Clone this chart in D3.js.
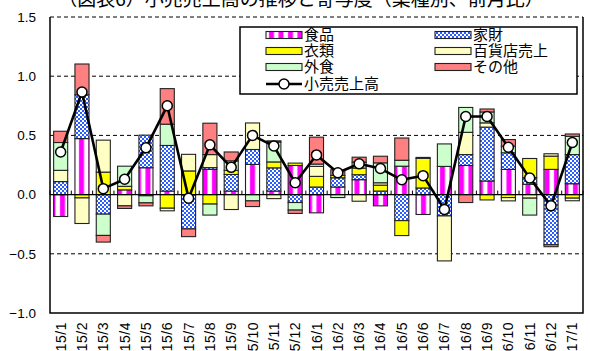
<!DOCTYPE html>
<html>
<head>
<meta charset="utf-8">
<script src="https://cdn.jsdelivr.net/npm/d3@7"></script>
<style>
  html, body { margin: 0; padding: 0; background: #fff; }
  svg { display: block; }
</style>
</head>
<body>
<svg id="chart" width="590" height="351"></svg>
<script>
// Months (yy/m)
const categories = ["15/1","15/2","15/3","15/4","15/5","15/6","15/7","15/8","15/9","15/10","15/11","15/12",
  "16/1","16/2","16/3","16/4","16/5","16/6","16/7","16/8","16/9","16/10","16/11","16/12","17/1"];

// Contribution by sector (percentage points)
const food     = [-0.185, 0.473, 0, 0.04, 0.227, 0.03, 0, 0.213, 0.03, 0.255, 0.03, 0.246,
  -0.154, 0.064, 0.126, -0.095, 0.24, -0.168, 0.238, 0.246, 0.115, 0.213, 0.087, 0.213, 0.092];
const household = [0.11, 0.37, -0.165, 0, 0.275, 0.385, -0.29, 0.015, 0.14, 0.126, 0.196, -0.067,
  0.064, 0.078, 0.042, 0.03, -0.22, 0.056, -0.18, 0.092, 0.455, 0.14, 0.056, -0.423, 0.246];
const clothing = [0, -0.028, 0.19, 0.03, -0.01, -0.115, 0.2, -0.08, 0.035, 0, 0.05, 0.02,
  0.09, 0.02, 0.056, 0.05, -0.126, 0.25, 0, 0, -0.045, -0.025, 0.162, 0.112, -0.03];
const deptStore = [0.095, -0.216, 0.27, -0.095, 0, -0.022, 0.14, 0.11, -0.126, 0.224, -0.034, 0,
  0.084, 0, -0.056, 0.02, 0, 0.008, -0.38, 0.188, 0.036, -0.028, -0.03, 0.02, -0.022];
const dining   = [0.235, 0, -0.18, 0.17, -0.06, 0.18, 0, -0.093, 0.08, -0.053, 0.168, -0.064,
  0.02, -0.025, 0.05, 0.168, 0.05, 0, 0.19, 0.21, 0.092, 0.056, -0.143, 0, 0.154];
const other    = [0.095, 0.26, -0.056, -0.022, -0.025, 0.30, -0.065, 0.265, 0.075, -0.048, 0.01, -0.028,
  0.227, 0.048, 0.042, 0.056, 0.188, 0, 0, -0.067, 0.025, 0.056, 0, -0.017, 0.02];

// Retail sales, month-on-month (%)
const retailSales = [0.36, 0.866, 0.05, 0.13, 0.395, 0.75, -0.03, 0.42, 0.23, 0.50, 0.41, 0.10,
  0.335, 0.185, 0.26, 0.22, 0.125, 0.16, -0.125, 0.66, 0.66, 0.40, 0.14, -0.095, 0.44];

const yTicks = [-1.0, -0.5, 0.0, 0.5, 1.0, 1.5];

const seriesNames = ["食品", "家財", "衣類", "百貨店売上", "外食", "その他"];
const seriesValues = [food, household, clothing, deptStore, dining, other];
const lineName = "小売売上高";

const svg = d3.select("#chart");
const defs = svg.append("defs");

// Striped fill for food
const pFood = defs.append("pattern").attr("id", "pFood")
  .attr("patternUnits", "userSpaceOnUse").attr("width", 9.5).attr("height", 4);
pFood.append("rect").attr("width", 9.5).attr("height", 4).attr("fill", "#fff");
pFood.append("rect").attr("x", 3).attr("width", 5).attr("height", 4).attr("fill", "#ff00ff");

// Checkered fill for household goods
const pHouse = defs.append("pattern").attr("id", "pHouse")
  .attr("patternUnits", "userSpaceOnUse").attr("width", 4).attr("height", 4);
pHouse.append("rect").attr("width", 4).attr("height", 4).attr("fill", "#fff");
pHouse.append("rect").attr("width", 2).attr("height", 2).attr("fill", "#2a5cff");
pHouse.append("rect").attr("x", 2).attr("y", 2).attr("width", 2).attr("height", 2).attr("fill", "#2a5cff");

const fills = ["url(#pFood)", "url(#pHouse)", "#ffff00", "#ffffc4", "#ccffcc", "#ff8080"];

const margin = { left: 50, right: 583, top: 17, bottom: 313 };

const rows = categories.map((c, i) => {
  const r = { cat: c };
  seriesNames.forEach((n, k) => { r[n] = seriesValues[k][i]; });
  return r;
});

const x = d3.scaleBand().domain(categories)
  .range([margin.left, margin.right])
  .paddingInner(0.34).paddingOuter(0.17);
const y = d3.scaleLinear().domain([-1.0, 1.5]).range([margin.bottom, margin.top]);

// Dashed gridlines
svg.append("g").selectAll("line").data(yTicks.filter(t => t !== 0 && t !== -1.0))
  .join("line")
  .attr("x1", margin.left).attr("x2", margin.right)
  .attr("y1", d => y(d)).attr("y2", d => y(d))
  .attr("stroke", "#000").attr("stroke-width", 1).attr("stroke-dasharray", "4,3");

// Y tick labels
svg.append("g").selectAll("text").data(yTicks).join("text")
  .attr("x", 36).attr("y", d => y(d))
  .attr("dy", "0.36em")
  .attr("text-anchor", "end")
  .attr("font-family", "'Liberation Sans', Arial, sans-serif")
  .attr("font-size", 13.5)
  .attr("fill", "#000")
  .text(d => (d < 0 ? "\u2212" : "") + Math.abs(d).toFixed(1));

// Stacked contributions
const stack = d3.stack().keys(seriesNames).offset(d3.stackOffsetDiverging);
const stacked = stack(rows);

const barG = svg.append("g");
stacked.forEach((layer, k) => {
  barG.append("g").selectAll("rect")
    .data(layer.filter(d => Math.abs(d[1] - d[0]) > 1e-9))
    .join("rect")
    .attr("x", d => x(d.data.cat))
    .attr("width", x.bandwidth())
    .attr("y", d => y(Math.max(d[0], d[1])))
    .attr("height", d => Math.abs(y(d[0]) - y(d[1])))
    .attr("fill", fills[k])
    .attr("stroke", "#222")
    .attr("stroke-width", 1.1);
});

// Category axis on the zero line, ticks between months pointing up
const zeroY = y(0);
svg.append("line")
  .attr("x1", margin.left).attr("x2", margin.right)
  .attr("y1", zeroY).attr("y2", zeroY)
  .attr("stroke", "#000").attr("stroke-width", 1.3);
const step = x.step();
svg.append("g").selectAll("line").data(d3.range(categories.length + 1))
  .join("line")
  .attr("x1", i => margin.left + i * step).attr("x2", i => margin.left + i * step)
  .attr("y1", zeroY).attr("y2", zeroY - 4)
  .attr("stroke", "#000").attr("stroke-width", 1);

// Frame: left, right, bottom solid
svg.append("path")
  .attr("d", `M${margin.left},${margin.top}V${margin.bottom}H${margin.right}V${margin.top}`)
  .attr("fill", "none").attr("stroke", "#000").attr("stroke-width", 1.5);

// Retail sales line
const line = d3.line()
  .x((d, i) => x(categories[i]) + x.bandwidth() / 2)
  .y(d => y(d));
svg.append("path").datum(retailSales)
  .attr("d", line)
  .attr("fill", "none").attr("stroke", "#000").attr("stroke-width", 2.6)
  .attr("stroke-linejoin", "round");
svg.append("g").selectAll("circle").data(retailSales).join("circle")
  .attr("cx", (d, i) => x(categories[i]) + x.bandwidth() / 2)
  .attr("cy", d => y(d))
  .attr("r", 5)
  .attr("fill", "#fff").attr("stroke", "#000").attr("stroke-width", 1.5);

// X labels (rotated)
svg.append("g").selectAll("text").data(categories).join("text")
  .attr("transform", d => `translate(${x(d) + x.bandwidth() / 2 + 5},322) rotate(-90)`)
  .attr("text-anchor", "end")
  .attr("font-family", "'Liberation Sans', Arial, sans-serif")
  .attr("font-size", 14)
  .attr("letter-spacing", 0.5)
  .attr("fill", "#000")
  .text(d => d);

// Legend
const lg = svg.append("g");
lg.append("rect").attr("x", 240).attr("y", 27).attr("width", 337).attr("height", 67)
  .attr("fill", "#fff").attr("stroke", "#000").attr("stroke-width", 1.5);
const legendItems = [
  { name: seriesNames[0], fill: fills[0], col: 0, row: 0 },
  { name: seriesNames[1], fill: fills[1], col: 1, row: 0 },
  { name: seriesNames[2], fill: fills[2], col: 0, row: 1 },
  { name: seriesNames[3], fill: fills[3], col: 1, row: 1 },
  { name: seriesNames[4], fill: fills[4], col: 0, row: 2 },
  { name: seriesNames[5], fill: fills[5], col: 1, row: 2 }
];
const rowY = [35, 51, 67, 84];
const colX = [266, 435];
legendItems.forEach(it => {
  lg.append("rect")
    .attr("x", colX[it.col]).attr("y", rowY[it.row] - 3.5)
    .attr("width", 36).attr("height", 7)
    .attr("fill", it.fill).attr("stroke", "#222").attr("stroke-width", 1.1);
  lg.append("text")
    .attr("x", colX[it.col] + 38).attr("y", rowY[it.row])
    .attr("dy", "0.36em")
    .attr("font-family", "'Noto Sans CJK JP', sans-serif")
    .attr("font-size", 15)
    .attr("fill", "#000")
    .text(it.name);
});
lg.append("line").attr("x1", colX[0]).attr("x2", colX[0] + 36)
  .attr("y1", rowY[3]).attr("y2", rowY[3])
  .attr("stroke", "#000").attr("stroke-width", 2.6);
lg.append("circle").attr("cx", colX[0] + 18).attr("cy", rowY[3]).attr("r", 5)
  .attr("fill", "#fff").attr("stroke", "#000").attr("stroke-width", 1.5);
lg.append("text")
  .attr("x", colX[0] + 38).attr("y", rowY[3])
  .attr("dy", "0.36em")
  .attr("font-family", "'Noto Sans CJK JP', sans-serif")
  .attr("font-size", 15)
  .attr("fill", "#000")
  .text(lineName);

// Title (top edge of the figure)
svg.append("text")
  .attr("x", 301).attr("y", 6)
  .attr("text-anchor", "middle")
  .attr("font-family", "'Noto Sans CJK JP', sans-serif")
  .attr("font-size", 19)
  .attr("fill", "#000")
  .text("（図表6）小売売上高の推移と寄与度（業種別、前月比）");
</script>
</body>
</html>
